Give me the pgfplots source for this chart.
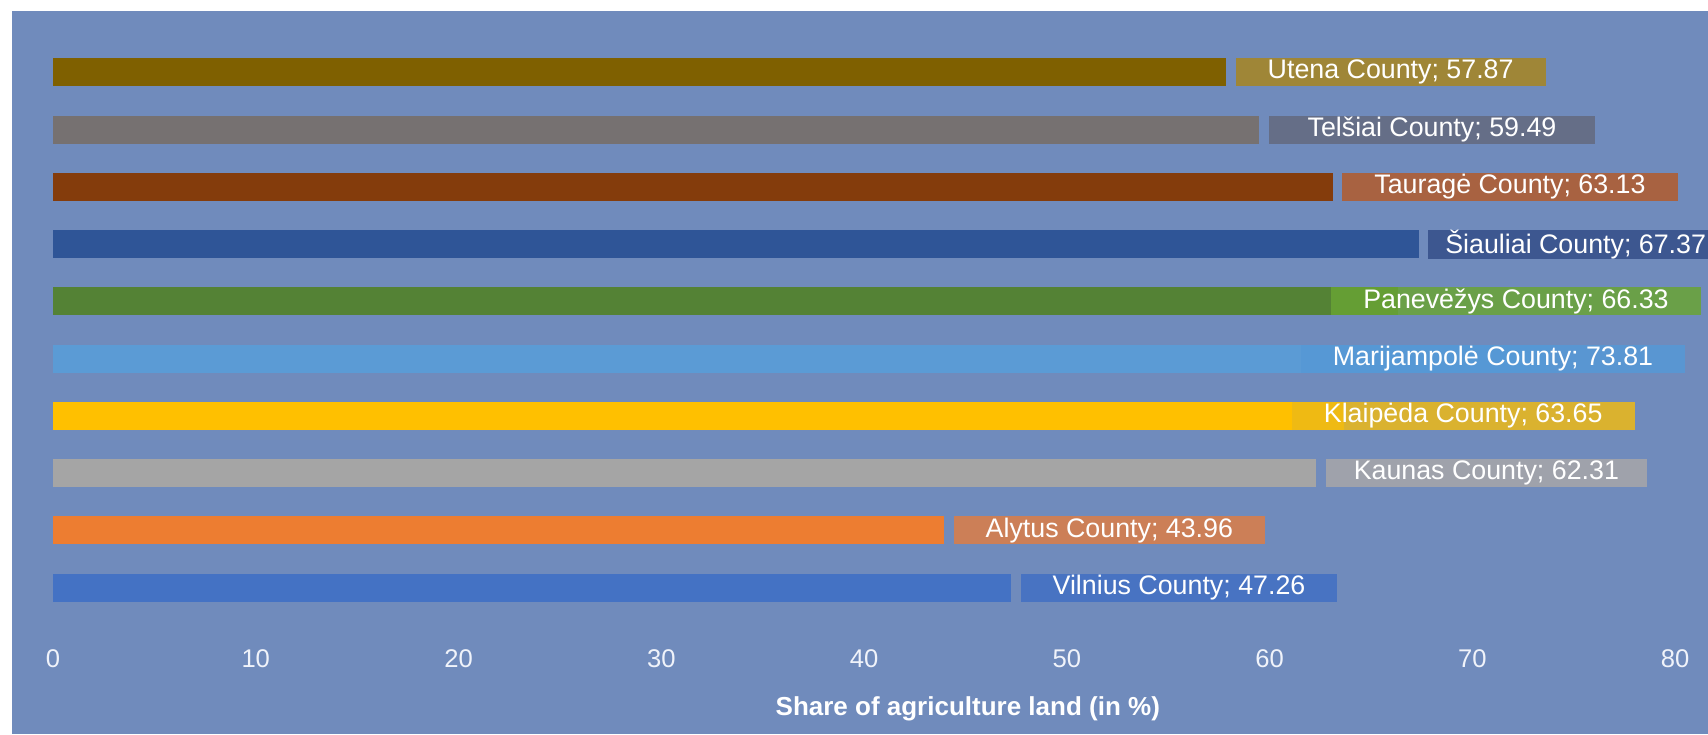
\documentclass[border=0pt]{standalone}
\usepackage{pgfplots}
\pgfplotsset{compat=1.18}
\usepackage{fontspec}
\setmainfont{Liberation Sans}

% panel and bar colours
\definecolor{panel}{RGB}{112,139,188}
\definecolor{tickcol}{RGB}{240,243,250}
\definecolor{cUtena}{RGB}{127,96,0}
\definecolor{cTelsiai}{RGB}{118,113,113}
\definecolor{cTaurage}{RGB}{132,60,12}
\definecolor{cSiauliai}{RGB}{47,85,151}
\definecolor{cPanevezys}{RGB}{84,130,53}
\definecolor{cMarijampole}{RGB}{91,155,213}
\definecolor{cKlaipeda}{RGB}{255,192,0}
\definecolor{cKaunas}{RGB}{165,165,165}
\definecolor{cAlytus}{RGB}{237,125,49}
\definecolor{cVilnius}{RGB}{68,114,196}
% label box fills (drawn semi-transparent)
\definecolor{lUtena}{RGB}{168,134,32}
\definecolor{lTelsiai}{RGB}{100,105,126}
\definecolor{lTaurage}{RGB}{178,91,44}
\definecolor{lSiauliai}{RGB}{53,79,137}
\definecolor{lPanevezys}{RGB}{105,164,52}
\definecolor{lMarijampole}{RGB}{86,152,214}
\definecolor{lKlaipeda}{RGB}{237,185,23}
\definecolor{lKaunas}{RGB}{168,167,169}
\definecolor{lAlytus}{RGB}{221,126,70}
\definecolor{lVilnius}{RGB}{65,111,196}

\newcommand{\val}{\pgfmathprintnumber[fixed,fixed zerofill,precision=2]{\pgfplotspointmeta}}

\begin{document}
\begin{tikzpicture}
\useasboundingbox (0,0) rectangle (854pt,367pt);
\clip (0,0) rectangle (854pt,367pt);
\fill[white] (0,0) rectangle (854pt,367pt);
\fill[panel] (6pt,0) rectangle (854pt,361.5pt);
\begin{axis}[
  at={(26.5pt,58.85pt)}, anchor=south west,
  scale only axis, width=811pt, height=286.3pt,
  xmin=0, xmax=80, ymin=-0.5, ymax=9.5,
  axis line style={draw=none},
  xtick={0,10,...,80}, ytick=\empty,
  major tick length=0pt,
  /pgf/number format/assume math mode=true,
  xticklabel style={anchor=base, yshift=-25.5pt, text=tickcol,
    font=\fontsize{12.8}{14}\selectfont},
  xbar, bar width=14pt,
  point meta=x,
  every axis plot/.append style={bar shift=0pt, draw=none},
  every node near coord/.append style={anchor=west, xshift=4.5pt,
    fill opacity=0.85, text opacity=1, text=white,
    inner xsep=16pt, inner ysep=0pt, minimum height=14pt,
    font=\fontsize{13.4}{15}\selectfont},
  clip=false,
]
\addplot[fill=cVilnius, nodes near coords={Vilnius County; \val},
  every node near coord/.append style={fill=lVilnius}]
  coordinates {(47.26,0)};
\addplot[fill=cAlytus, nodes near coords={Alytus County; \val},
  every node near coord/.append style={fill=lAlytus}]
  coordinates {(43.96,1)};
\addplot[fill=cKaunas, nodes near coords={Kaunas County; \val},
  every node near coord/.append style={fill=lKaunas, inner xsep=14pt}]
  coordinates {(62.31,2)};
\addplot[fill=cKlaipeda, nodes near coords={Klaipėda County; \val},
  every node near coord/.append style={fill=lKlaipeda, xshift=-30.5pt}]
  coordinates {(63.65,3)};
\addplot[fill=cMarijampole, nodes near coords={Marijampolė County; \val},
  every node near coord/.append style={fill=lMarijampole, xshift=-129pt}]
  coordinates {(73.81,4)};
\addplot[fill=cPanevezys, nodes near coords={Panevėžys County; \val},
  every node near coord/.append style={fill=lPanevezys, xshift=-38pt}]
  coordinates {(66.33,5)};
\addplot[fill=cSiauliai, nodes near coords={Šiauliai County; \val},
  every node near coord/.append style={fill=lSiauliai, inner xsep=8.5pt}]
  coordinates {(67.37,6)};
\addplot[fill=cTaurage, nodes near coords={Tauragė County; \val},
  every node near coord/.append style={fill=lTaurage}]
  coordinates {(63.13,7)};
\addplot[fill=cTelsiai, nodes near coords={Telšiai County; \val},
  every node near coord/.append style={fill=lTelsiai, inner xsep=19.5pt}]
  coordinates {(59.49,8)};
\addplot[fill=cUtena, nodes near coords={Utena County; \val},
  every node near coord/.append style={fill=lUtena}]
  coordinates {(57.87,9)};
\node[anchor=base, yshift=-49.5pt, text=white,
  font=\bfseries\fontsize{13}{15}\selectfont]
  at (axis description cs:0.564,0) {Share of agriculture land (in \%)};
\end{axis}
\end{tikzpicture}
\end{document}
